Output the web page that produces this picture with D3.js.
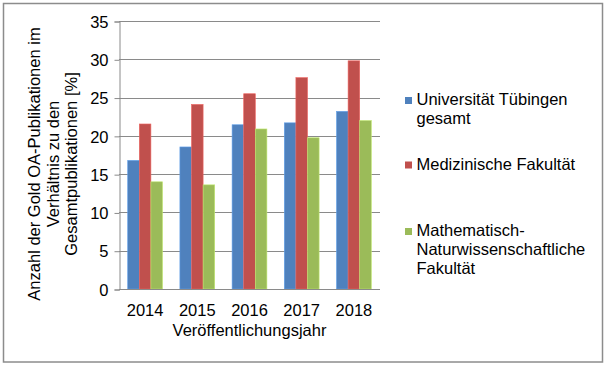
<!DOCTYPE html>
<html>
<head>
<meta charset="utf-8">
<script src="https://cdn.jsdelivr.net/npm/d3@7"></script>
<style>
  body { margin: 0; background: #fff; }
  text { font-family: "Liberation Sans", Arial, sans-serif; fill: #000; }
</style>
</head>
<body>
<svg id="chart" width="606" height="365"></svg>
<script>
var years = ["2014", "2015", "2016", "2017", "2018"];
var seriesNames = ["Universität Tübingen gesamt", "Medizinische Fakultät", "Mathematisch-Naturwissenschaftliche Fakultät"];
var uniValues = [16.8, 18.55, 21.45, 21.7, 23.2];
var medValues = [21.55, 24.1, 25.5, 27.6, 29.8];
var matValues = [14.0, 13.6, 20.9, 19.75, 22.0];
var yTicks = [0, 5, 10, 15, 20, 25, 30, 35];
var legendLines = [["Universität Tübingen", "gesamt"], ["Medizinische Fakultät"], ["Mathematisch-", "Naturwissenschaftliche", "Fakultät"]];
var colors = ["#4F81BD", "#C0504D", "#9BBB59"];

var svg = d3.select("#chart");

// outer frame
svg.append("rect")
    .attr("x", 3.5).attr("y", 3.5)
    .attr("width", 599).attr("height", 358.5)
    .attr("fill", "#fff")
    .attr("stroke", "#8c8c8c")
    .attr("stroke-width", 1.5);

var plotL = 119, plotR = 380, plotT = 21, plotB = 289;

// Excel style: each category = 3 bars + gap of 1.5 bars
var x = d3.scaleBand().domain(years).range([plotL, plotR]).padding(0);
var barW = x.bandwidth() / 4.5;
var xs = d3.scaleBand().domain(d3.range(3)).range([0, barW * 3]);

var y = d3.scaleLinear().domain([0, 35]).range([plotB, plotT]);

// gridlines
svg.append("g")
  .selectAll("line")
  .data(yTicks.filter(function (d) { return d > 0; }))
  .join("line")
    .attr("x1", plotL).attr("x2", plotR)
    .attr("y1", function (d) { return Math.round(y(d)) + 0.5; })
    .attr("y2", function (d) { return Math.round(y(d)) + 0.5; })
    .attr("stroke", "#8a8a8a")
    .attr("stroke-width", 1);

// y axis
var yAxis = d3.axisLeft(y).tickValues(yTicks).tickSize(5).tickPadding(6);
var gy = svg.append("g")
    .attr("transform", "translate(" + (plotL + 0.5) + ",0.5)")
    .call(yAxis);
gy.select(".domain").attr("stroke", "#8a8a8a");
gy.selectAll(".tick line").attr("stroke", "#8a8a8a");
gy.selectAll(".tick text")
    .style("font-size", "16.5px")
    .style("font-family", "'Liberation Sans', Arial, sans-serif")
    .attr("dy", "0.35em")
    .attr("fill", "#000");

// bars
var allSeries = [uniValues, medValues, matValues];
allSeries.forEach(function (vals, si) {
  svg.append("g")
    .selectAll("rect")
    .data(vals)
    .join("rect")
      .attr("x", function (d, i) { return x(years[i]) + 0.75 * barW + xs(si); })
      .attr("y", function (d) { return y(d); })
      .attr("width", barW)
      .attr("height", function (d) { return y(0) - y(d); })
      .attr("fill", colors[si])
      .attr("stroke", d3.color(colors[si]).brighter(0.6))
      .attr("stroke-width", 0.6);
});

// x axis line
svg.append("line")
    .attr("x1", plotL).attr("x2", plotR)
    .attr("y1", plotB + 0.5).attr("y2", plotB + 0.5)
    .attr("stroke", "#8a8a8a");

svg.append("g")
  .selectAll("text")
  .data(years)
  .join("text")
    .attr("x", function (d) { return x(d) + x.bandwidth() / 2; })
    .attr("y", 316)
    .attr("text-anchor", "middle")
    .style("font-size", "16.5px")
    .text(function (d) { return d; });

// x title
svg.append("text")
    .attr("x", (plotL + plotR) / 2)
    .attr("y", 336)
    .attr("text-anchor", "middle")
    .style("font-size", "16.5px")
    .text("Veröffentlichungsjahr");

// y title
var yTitle = ["Anzahl der Gold OA-Publikationen im", "Verhältnis zu den", "Gesamtpublikationen [%]"];
var yBase = [40, 58.5, 77];
yTitle.forEach(function (t, i) {
  svg.append("text")
      .attr("transform", "translate(" + yBase[i] + ",164) rotate(-90)")
      .attr("text-anchor", "middle")
      .style("font-size", "16.5px")
      .text(t);
});

// legend
var legendY = [105, 169.5, 236];
var lg = svg.append("g");
legendLines.forEach(function (lines, i) {
  lg.append("rect")
      .attr("x", 405).attr("y", legendY[i] - 8)
      .attr("width", 7).attr("height", 7)
      .attr("fill", colors[i]);
  lines.forEach(function (ln, j) {
    lg.append("text")
        .attr("x", 416.5)
        .attr("y", legendY[i] + j * 19)
        .style("font-size", "16.5px")
        .text(ln);
  });
});
</script>
</body>
</html>
